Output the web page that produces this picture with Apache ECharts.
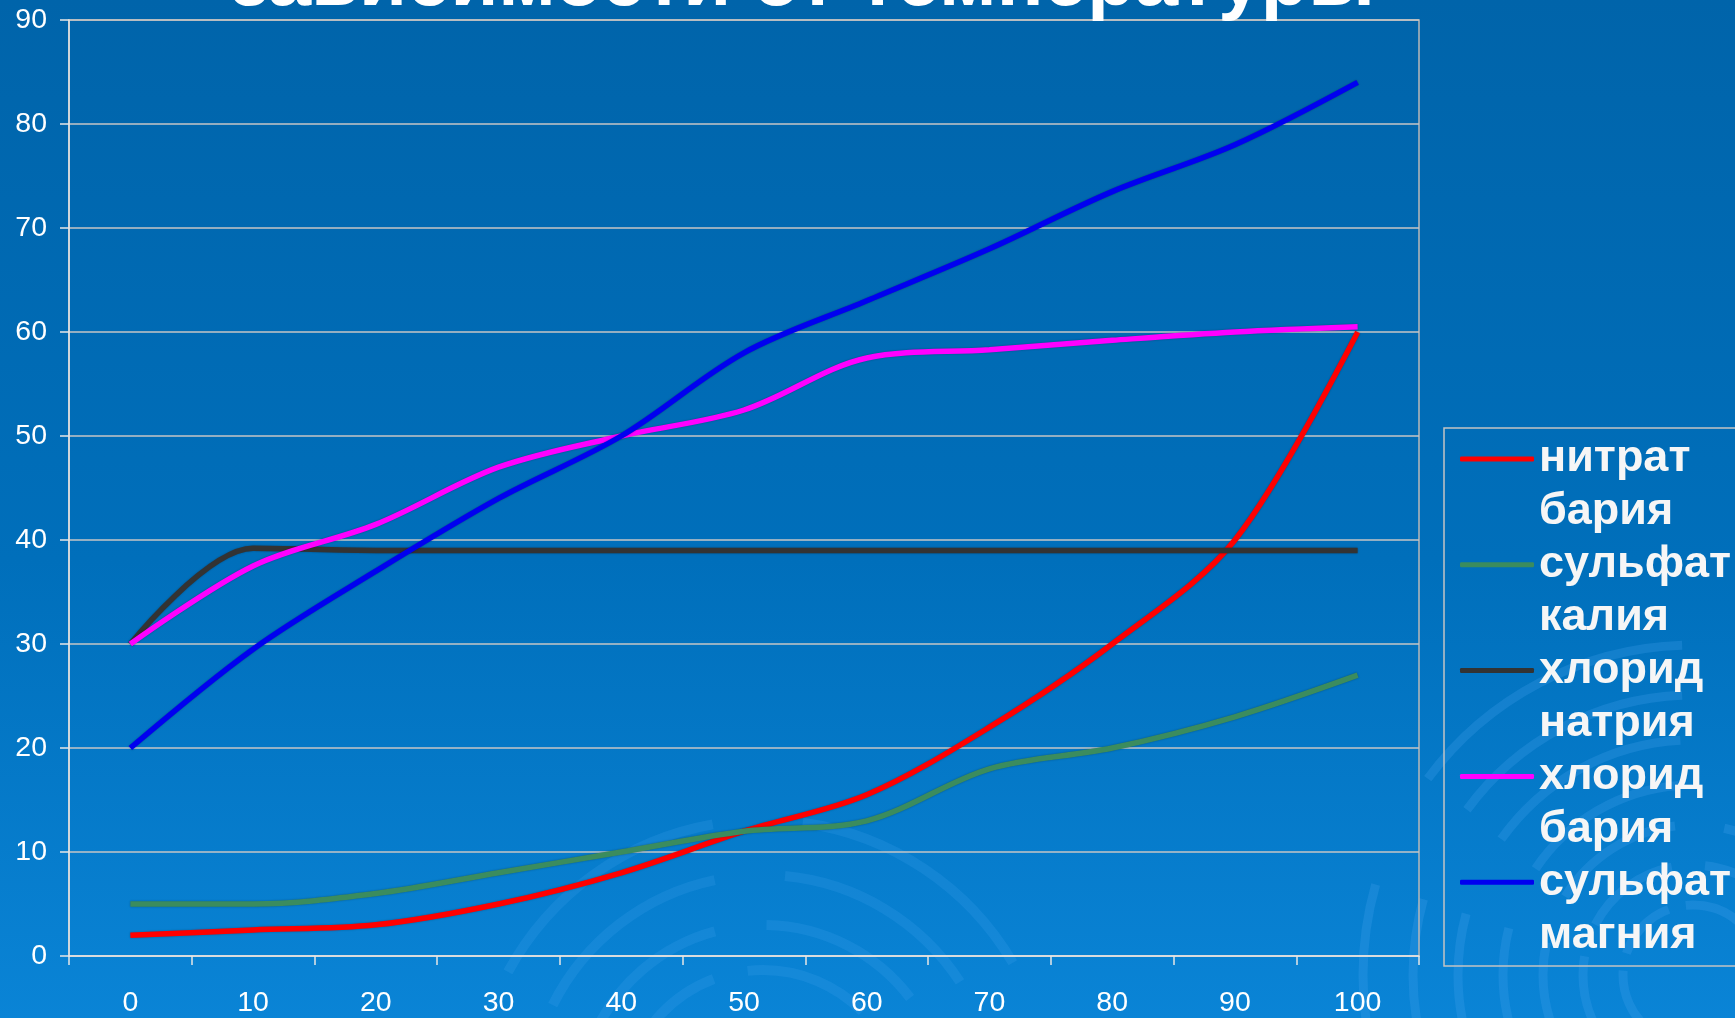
<!DOCTYPE html>
<html><head><meta charset="utf-8">
<script src="https://cdn.jsdelivr.net/npm/echarts@6/dist/echarts.min.js"></script>
<style>html,body{margin:0;padding:0;width:1735px;height:1018px;overflow:hidden;}#c{width:1735px;height:1018px}</style>
</head><body><div id="c"></div>
<script>
// ---- data ----
const categories = ['0', '10', '20', '30', '40', '50', '60', '70', '80', '90', '100'];
const bariumNitrate    = [2, 2.5, 3, 5, 8, 12, 15.5, 22, 30, 40, 60];
const potassiumSulfate = [5, 5, 6, 8, 10, 12, 13, 18, 20, 23, 27];
const sodiumChloride   = [30, 39.2, 39, 39, 39, 39, 39, 39, 39, 39, 39];
const bariumChloride   = [30, 37.5, 41.5, 47, 50, 52.5, 57.5, 58.3, 59.2, 60, 60.5];
const magnesiumSulfate = [20, 29.5, 37, 44, 50, 58, 63, 68, 73.5, 78, 84];
const seriesNames = ['нитрат\nбария', 'сульфат\nкалия', 'хлорид\nнатрия', 'хлорид\nбария', 'сульфат\nмагния'];
const seriesColors = ['#ff0000', '#3b8c5e', '#333333', '#ff00ff', '#0000f0'];
const titleText = 'зависимости от температуры';

const seriesData = [bariumNitrate, potassiumSulfate, sodiumChloride, bariumChloride, magnesiumSulfate];
const FONT = "'Liberation Sans', Arial, sans-serif";

function rings(cx, cy, radii, color, width) {
  return radii.map((r, i) => ({
    type: 'circle', z: -5, silent: true,
    shape: { cx: cx, cy: cy, r: r },
    style: { fill: 'none', stroke: color, lineWidth: width, lineDash: [r * 0.9, r * 0.25 + i * 6] }
  }));
}

const chart = echarts.init(document.getElementById('c'), null, { renderer: 'canvas' });
chart.setOption({
  backgroundColor: {
    type: 'linear', x: 0, y: 0, x2: 0, y2: 1,
    colorStops: [{ offset: 0, color: '#0064aa' }, { offset: 0.55, color: '#006fbb' }, { offset: 1, color: '#0a84d6' }]
  },
  animation: false,
  title: {
    text: titleText, left: 230, top: -56, padding: 0,
    textStyle: { color: '#ffffff', fontSize: 78, fontWeight: 'bold', fontFamily: FONT }
  },
  graphic: [].concat(
    rings(1693, 975, [70, 110, 150, 190, 235, 280, 330], 'rgba(70,165,240,0.25)', 9),
    rings(763, 1110, [140, 185, 235, 290], 'rgba(70,165,240,0.2)', 10),
    [{
      type: 'rect', z: 5, silent: true,
      shape: { x: 1444, y: 428, width: 400, height: 538 },
      style: { fill: 'none', stroke: '#c4c4c4', lineWidth: 1.5 }
    }]
  ),
  grid: {
    left: 69, right: 316, top: 20, bottom: 61,
    show: true, borderColor: '#b8b8b8', borderWidth: 1.5, backgroundColor: 'transparent'
  },
  legend: {
    orient: 'vertical', left: 1460, top: 379.5, padding: 0,
    itemGap: -53.2, itemWidth: 74, itemHeight: 5, icon: 'roundRect',
    selectedMode: false,
    formatter: function (name) { return '\n' + name; },
    textStyle: { color: '#f6f6f6', fontSize: 45, fontWeight: 'bold', fontFamily: FONT, lineHeight: 53 }
  },
  xAxis: {
    type: 'category', data: categories, boundaryGap: true,
    axisLine: { lineStyle: { color: '#e6e6e6', width: 1.5 } },
    axisTick: { show: true, length: 9, lineStyle: { color: '#e6e6e6', width: 1.5 } },
    axisLabel: { interval: 0, margin: 33, color: '#ffffff', fontSize: 28.5, fontFamily: FONT },
    splitLine: { show: false }
  },
  yAxis: {
    type: 'value', min: 0, max: 90, interval: 10,
    axisLine: { show: true, lineStyle: { color: '#e6e6e6', width: 1.5 } },
    axisTick: { show: true, length: 9, lineStyle: { color: '#e6e6e6', width: 1.5 } },
    axisLabel: { margin: 22, color: '#ffffff', fontSize: 28.5, fontFamily: FONT },
    splitLine: { show: true, lineStyle: { color: '#c6c6c6', width: 1.5 } }
  },
  series: seriesData.map((d, i) => ({
    name: seriesNames[i], type: 'line', data: d,
    smooth: 0.33, showSymbol: false, symbol: 'none',
    color: seriesColors[i],
    lineStyle: { color: seriesColors[i], width: 5.5, shadowColor: 'rgba(0,0,0,0.3)', shadowBlur: 2 },
    itemStyle: { color: seriesColors[i] },
    z: 3 + i
  }))
});
</script></body></html>
